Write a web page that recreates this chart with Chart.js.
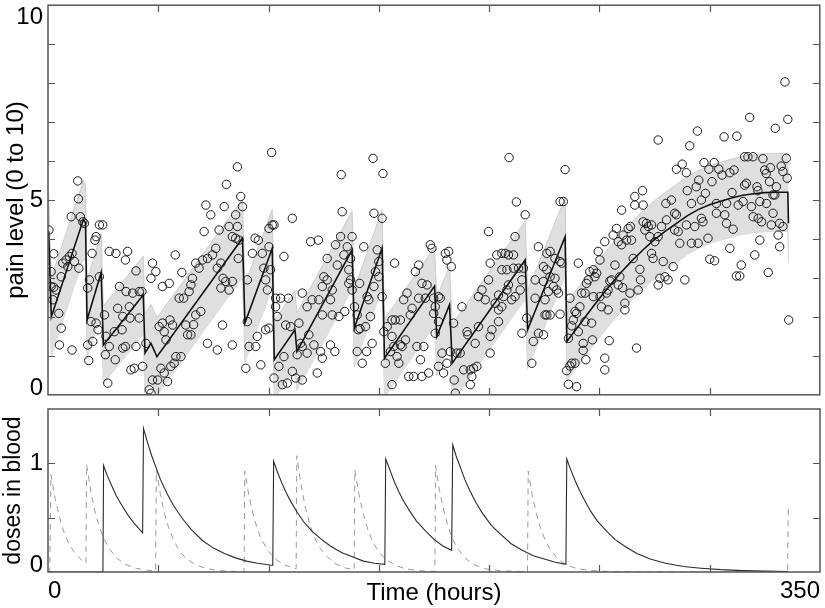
<!DOCTYPE html>
<html>
<head>
<meta charset="utf-8">
<script src="https://cdn.jsdelivr.net/npm/chart.js@4"></script>
<style>
  body { margin: 0; background: #fff; }
  #top, #bottom { position: absolute; left: 0; }
  #top { top: 0; }
  #bottom { top: 400px; }
</style>
</head>
<body>
<canvas id="top" width="825" height="400"></canvas>
<canvas id="bottom" width="825" height="208"></canvas>
<script>
// pain model: fitted mean (line) and band, hours
const painTime = [0.3, 1.5, 16.0, 17.0, 17.7, 24.1, 25.1, 43.2, 44.0, 46.7, 49.4, 88.2, 89.3, 101.7, 102.6, 112.0, 112.9, 137.9, 138.9, 151.5, 152.6, 175.3, 176.3, 182.1, 183.3, 216.4, 217.5, 234.5, 235.3, 240, 245, 250, 255, 260, 265, 270, 275, 280, 285, 290, 295, 300, 305, 310, 315, 320, 325, 330, 335.5, 335.8];
const painLevel = [4.2, 2.0, 4.49, 4.42, 1.92, 3.14, 1.28, 2.56, 1.07, 1.32, 0.98, 4.02, 1.84, 3.76, 0.90, 1.67, 1.11, 3.72, 1.71, 3.76, 0.94, 2.79, 1.50, 2.31, 0.81, 3.46, 1.67, 4.06, 1.37, 1.72, 2.1, 2.47, 2.82, 3.15, 3.45, 3.73, 3.98, 4.2, 4.4, 4.6, 4.76, 4.88, 4.97, 5.05, 5.12, 5.16, 5.19, 5.2, 5.2, 4.4];
const bandUpper = [5.2, 3.0, 5.49, 5.42, 2.92, 4.14, 2.28, 3.56, 2.07, 2.32, 1.98, 5.02, 2.84, 4.76, 1.90, 2.67, 2.11, 4.72, 2.71, 4.76, 1.94, 3.79, 2.50, 3.31, 1.81, 4.46, 2.67, 5.06, 2.37, 2.72, 3.1, 3.47, 3.82, 4.15, 4.45, 4.73, 4.98, 5.2, 5.4, 5.6, 5.76, 5.88, 5.97, 6.05, 6.12, 6.16, 6.19, 6.2, 6.2, 5.4];
const bandLower = [3.2, 1.0, 3.49, 3.42, 0.92, 2.14, 0.28, 1.56, 0.07, 0.32, -0.02, 3.02, 0.84, 2.76, -0.10, 0.67, 0.11, 2.72, 0.71, 2.76, -0.06, 1.79, 0.50, 1.31, -0.19, 2.46, 0.67, 3.06, 0.37, 0.72, 1.1, 1.47, 1.82, 2.15, 2.45, 2.73, 2.98, 3.2, 3.4, 3.6, 3.76, 3.88, 3.97, 4.05, 4.12, 4.16, 4.19, 4.2, 4.2, 3.4];

// observed pain reports [hours, level]
const observations = [
  [0.4,4.23],[13.5,5.49],[13.8,5.03],[10.5,4.57],[14.7,4.57],[15.8,4.44],[16.5,4.40],[23.3,4.36],[24.8,4.36],[21.8,4.06],
  [21.3,3.97],[2.6,3.62],[1.4,3.16],[1.4,2.78],[2.6,2.76],[3.7,2.69],[2.2,2.44],[4.9,2.09],[6.0,3.03],[6.7,3.38],
  [8.2,3.46],[9.0,3.29],[9.7,3.55],[10.9,3.63],[12.0,3.42],[14.0,3.25],[5.2,1.28],[6.0,1.71],[10.9,1.15],[18.0,2.74],
  [18.8,2.95],[20.0,3.63],[23.3,3.03],[18.0,1.28],[20.3,1.37],[18.5,0.88],[19.5,1.88],[21.8,1.84],[22.7,1.67],[25.6,2.05],
  [27.8,3.68],[30.8,3.63],[35.1,3.46],[36.1,3.68],[32.4,2.78],[35.4,2.65],[38.4,2.61],[41.4,2.65],[42.6,2.65],[31.6,2.22],
  [33.9,2.01],[36.9,2.26],[37.2,1.97],[26.3,1.50],[27.8,1.24],[26.0,1.03],[30.5,0.90],[30.1,1.62],[33.6,1.67],[33.9,1.20],
  [35.1,1.24],[39.9,3.18],[41.4,1.97],[39.9,1.24],[44.4,1.32],[27.1,0.30],[37.6,0.64],[39.1,0.68],[42.9,0.73],[46.7,2.99],
  [47.4,3.38],[48.9,3.16],[45.9,0.13],[46.7,0.04],[47.4,0.38],[49.7,0.38],[54.2,0.34],[51.9,2.78],[55.0,2.86],[50.4,1.75],
  [51.9,1.84],[55.3,1.92],[56.5,1.79],[52.7,1.62],[53.5,1.41],[51.2,0.68],[52.7,0.56],[55.7,0.73],[57.2,0.81],[58.0,0.98],
  [60.3,0.98],[57.7,3.59],[60.7,3.14],[59.5,2.48],[61.5,2.48],[64.0,2.65],[65.5,2.99],[64.8,2.82],[62.5,1.79],[63.3,1.54],
  [64.8,1.54],[67.0,2.05],[69.3,2.14],[66.0,1.80],[67.0,3.38],[68.5,3.25],[70.1,3.46],[72.3,3.50],[74.6,3.59],[76.1,3.76],
  [76.8,3.25],[78.4,3.38],[79.4,2.99],[80.6,2.91],[82.1,2.69],[83.6,2.91],[78.4,2.74],[71.6,4.87],[73.8,4.62],[79.9,4.83],
  [77.6,4.23],[82.1,4.32],[85.1,4.62],[85.9,4.32],[83.6,4.06],[85.1,4.02],[86.6,3.97],[88.2,4.83],[70.8,4.19],[72.3,1.32],
  [76.8,1.15],[79.1,1.79],[83.6,1.28],[86.3,3.50],[90.4,2.95],[92.7,3.63],[93.9,4.02],[95.4,3.97],[97.2,3.63],[97.9,3.25],
  [98.7,2.95],[99.5,2.69],[100.2,4.27],[102.5,4.36],[90.4,1.88],[89.7,0.68],[91.2,1.24],[94.2,1.24],[94.9,1.50],[96.5,0.77],
  [98.7,1.67],[103.2,2.48],[80.9,5.40],[85.9,5.85],[87.4,5.09],[101.4,6.22],
  [133.0,5.65],[147.4,6.07],[151.9,5.68],[209.1,6.09],[212.4,4.95],
  [101.7,4.36],[100.2,3.80],[100.9,3.21],[100.2,1.71],[103.2,2.26],[105.5,2.48],[109.0,2.48],[110.8,4.53],[107.0,3.55],[104.0,2.01],
  [107.8,1.79],[110.0,1.75],[113.8,1.84],[115.3,2.61],[119.8,2.44],[122.8,2.44],[119.1,3.93],[122.6,3.97],[124.4,2.05],[125.1,3.03],
  [126.6,2.95],[126.6,3.50],[128.9,2.69],[130.4,3.85],[131.2,3.33],[132.7,4.06],[133.4,4.70],[134.2,3.59],[135.7,3.80],[136.4,3.21],
  [137.2,3.50],[137.9,4.06],[137.2,2.95],[124.4,2.78],[128.9,2.05],[131.9,2.01],[128.1,2.44],[117.5,2.26],[118.3,1.54],[115.3,1.24],
  [114.5,1.32],[117.5,1.07],[120.6,1.28],[123.6,1.11],[122.1,0.56],[124.4,0.94],[128.1,1.28],[130.1,1.11],[113.0,1.03],[107.0,0.98],
  [110.8,0.60],[112.3,0.43],[115.3,0.38],[108.5,0.30],[106.3,0.26],[102.5,0.43],[104.7,0.73],[136.4,2.86],[134.6,2.14],[137.9,2.69],
  [139.0,2.26],[140.2,2.05],[140.7,1.67],[141.5,1.70],[144.0,1.75],[140.2,1.11],[142.5,0.81],[144.5,1.11],[147.0,1.32],[146.2,2.01],
  [141.3,2.86],[143.2,3.80],[144.7,2.52],[145.5,2.44],[147.8,2.78],[148.5,3.16],[150.0,3.42],[149.3,3.72],[151.5,2.52],[147.8,4.66],
  [151.5,4.53],[150.0,3.03],[152.3,1.62],[153.8,1.75],[156.0,1.92],[157.5,1.92],[159.8,1.92],[157.2,3.38],[156.0,1.50],[156.8,1.24],
  [159.8,1.28],[160.6,1.24],[162.1,1.41],[158.3,0.98],[159.1,0.81],[155.3,1.11],[153.0,0.81],[156.0,0.26],[163.6,0.47],[165.8,0.47],
  [169.6,0.47],[172.6,0.56],[168.9,0.90],[167.3,1.24],[170.4,1.24],[161.3,2.44],[162.8,2.61],[164.3,2.05],[165.1,2.22],[166.6,3.16],
  [168.1,3.33],[169.6,2.86],[171.9,2.82],[168.1,2.48],[171.1,2.48],[173.4,3.85],[174.1,3.76],[174.9,2.48],[177.1,2.52],[177.9,2.48],
  [175.6,2.26],[174.9,2.09],[177.1,1.88],[175.6,1.58],[178.7,1.07],[177.1,0.73],[179.4,0.56],[180.9,0.81],[182.4,1.11],[180.2,3.63],
  [181.7,3.68],[180.9,3.46],[182.9,3.29],[183.9,1.84],[185.4,1.07],[187.7,2.26],[184.2,0.38],[184.7,0.04],[186.9,1.07],[190.0,1.62],
  [190.4,1.54],[191.5,0.64],[193.0,0.68],[194.5,0.73],[192.2,0.47],[191.5,0.26],[188.5,0.64],[193.7,1.32],[195.2,1.75],[195.2,2.52],
  [196.8,2.69],[199.8,2.95],[198.3,2.44],[202.8,2.35],[201.3,1.67],[200.5,1.50],[200.5,1.07],[204.3,1.88],[204.3,2.18],[205.8,2.26],
  [204.3,2.56],[206.6,2.52],[208.1,2.69],[208.8,2.82],[199.8,4.19],[200.5,3.38],[203.5,3.59],[205.8,3.63],[207.3,3.63],[208.8,3.59],
  [211.1,3.59],[205.8,3.21],[208.1,3.21],[211.1,3.25],[211.8,4.06],[213.4,3.25],[215.6,3.25],[214.9,2.95],[214.1,2.69],[211.8,2.52],
  [210.3,2.44],[216.4,4.62],[217.1,1.97],[214.9,1.58],[219.4,0.81],[220.1,1.37],[222.4,1.58],[220.9,2.95],[222.4,3.80],[224.7,3.29],
  [225.4,2.05],[220.9,2.48],[226.2,3.63],
  [226.2,3.21],[224.7,2.91],[227.7,3.03],[229.9,2.99],[229.2,2.78],[230.7,2.69],[226.9,2.65],[231.5,2.61],[225.4,2.44],[227.7,3.68],
  [229.9,3.50],[232.2,3.42],[233.0,3.38],[226.2,2.05],[227.7,2.05],[232.2,2.07],[224.7,1.54],[232.2,4.96],[233.7,4.96],
  [266.1,4.87],[269.9,4.87],[260.1,4.74],[280.2,4.91],[282.7,5.0],[291.8,4.91],[296.3,5.0],[303.1,4.91],[307.7,4.91],[313.0,4.87],
  [315.2,4.96],[319.0,4.83],[322.8,4.96],[325.8,4.91],[328.8,4.66],[322.1,4.53],[319.8,4.57],[323.6,4.44],[331.8,4.40],[333.3,4.32],
  [328.0,4.36],[331.1,4.10],[331.8,3.80],[322.8,3.97],[320.5,3.59],[326.6,3.14],[309.2,3.76],[314.4,3.33],[312.2,3.05],[313.7,3.05],
  [306.9,4.62],[307.7,4.40],[310.7,4.25],[303.1,4.66],[300.1,3.48],[302.3,3.44],[299.3,4.02],[297.0,4.44],[296.3,4.53],[293.3,4.32],
  [294.8,3.89],[291.8,3.89],[289.5,4.36],[288.8,2.95],[286.5,3.89],[285.8,4.19],[284.2,4.23],[283.5,3.29],[281.2,2.95],[279.8,3.03],
  [277.5,2.99],[276.7,2.82],[279.0,3.42],[285.0,4.62],[284.2,4.66],[280.5,4.49],[278.2,4.32],[276.7,4.06],[275.2,3.93],[273.7,3.63],
  [274.4,3.50],[272.9,4.06],[272.2,4.32],[271.4,4.40],[270.7,4.23],[269.9,4.44],[273.7,4.36],[268.4,3.22],[268.7,2.95],[267.6,2.69],
  [266.9,1.20],[265.4,3.50],[264.6,3.97],[263.9,2.61],[262.4,3.97],[263.1,4.27],[264.1,4.32],[260.8,4.10],[260.1,3.85],[258.6,3.93],
  [257.8,4.27],[256.3,4.10],[257.1,3.33],[259.3,3.03],[258.6,2.82],[261.6,2.35],[261.6,2.18],[260.6,2.75],[255.6,2.95],[254.8,2.92],
  [254.0,2.69],[253.3,2.61],[252.5,3.93],[250.3,3.46],[249.5,3.68],[248.8,3.12],[247.3,3.21],[248.0,3.03],[245.7,3.16],[245.0,2.95],
  [244.2,2.86],[243.5,2.61],[242.0,2.61],[246.5,1.84],[247.3,2.52],[250.3,2.52],[251.0,2.26],[254.0,2.18],[254.5,1.39],[252.5,0.94],
  [252.5,0.64],[246.9,1.41],[243.5,1.88],[242.7,1.32],[242.7,1.14],[243.9,0.90],[241.2,2.26],[239.7,2.09],[239.0,2.14],[240.5,1.62],
  [238.2,1.92],[237.5,1.77],[236.7,2.48],[236.0,1.45],[239.0,0.81],[237.5,0.81],[236.7,0.74],[235.2,0.62],[236.0,0.27],[239.7,0.21],
  [240.5,3.38],[335.9,1.92],
  [234.5,5.78],[276.7,6.54],[291.0,6.39],[294.5,6.77],[306.6,6.62],[312.4,6.64],[318.2,7.12],[329.8,6.84],[334.2,8.03],[335.5,7.07],
  [285.0,5.79],[287.6,5.92],[289.5,5.70],[297.5,5.96],[302.1,5.96],[299.7,5.79],[304.2,5.79],[305.7,5.64],[301.1,5.47],[295.1,5.51],
  [311.1,5.77],[309.2,5.70],[315.9,6.11],[317.4,6.11],[319.7,6.11],[324.2,6.06],[325.0,5.77],[327.6,5.83],[325.7,5.68],[332.5,5.87],
  [333.3,5.73],[334.8,6.07],[335.2,5.56],[327.2,5.47],[315.9,5.38],[316.7,5.43],[321.5,5.34],[321.9,5.24],[330.3,5.34],[266.1,5.09],
  [269.6,5.24],[289.9,5.24],[294.0,5.34],[298.1,5.17],[310.2,5.19],[328.8,5.13],[329.6,5.13]
];

// doses in blood
const solidTime = [0, 24.9, 25.2, 27, 29, 31, 33, 36, 39, 42.9, 43.3, 45, 47, 49, 51, 54, 57, 61, 65, 70, 75, 80, 85, 90, 95, 101.9, 102.3, 104, 106, 108, 110, 113, 116, 120, 124, 128, 133, 138, 143, 148, 152.7, 153.1, 155, 157, 159, 161, 164, 167, 171, 175, 179, 183.0, 183.5, 185, 187, 189, 191, 194, 197, 201, 205, 210, 215, 220, 225, 230, 234.8, 235.2, 237, 239, 241, 243, 246, 249, 253, 257, 262, 267, 273, 280, 288, 296, 305, 315, 325, 335.5];
const solidDose = [0, 0, 0.98, 0.88, 0.79, 0.70, 0.63, 0.53, 0.45, 0.36, 1.32, 1.20, 1.07, 0.96, 0.85, 0.72, 0.61, 0.49, 0.39, 0.29, 0.22, 0.17, 0.13, 0.10, 0.08, 0.06, 1.02, 0.92, 0.82, 0.73, 0.65, 0.55, 0.46, 0.37, 0.30, 0.24, 0.18, 0.14, 0.10, 0.08, 0.07, 1.04, 0.94, 0.83, 0.74, 0.66, 0.56, 0.47, 0.38, 0.30, 0.24, 0.20, 1.17, 1.07, 0.96, 0.85, 0.76, 0.64, 0.54, 0.43, 0.35, 0.26, 0.20, 0.15, 0.12, 0.09, 0.07, 1.04, 0.94, 0.84, 0.75, 0.67, 0.56, 0.47, 0.38, 0.30, 0.23, 0.17, 0.12, 0.08, 0.05, 0.035, 0.022, 0.013, 0.008, 0.005];
const dashTime = [0, 0.8, 1.3, 3, 5, 7, 9, 11, 13, 15, 17.2, 17.5, 19.5, 21.5, 23.5, 25.5, 28, 31, 35, 40, 45, 48.8, 49.1, 51, 53, 55, 57, 60, 63, 67, 72, 78, 85, 88.9, 89.2, 91, 93, 95, 97, 100, 103, 107, 112.5, 112.8, 114.5, 116.5, 118.5, 120.5, 123, 126, 130, 134, 138.8, 139.1, 141, 143, 145, 147, 150, 153, 157, 162, 168, 175.4, 175.7, 177.5, 179.5, 181.5, 183.5, 186, 189, 193, 198, 205, 212, 217.4, 217.7, 219.5, 221.5, 223.5, 225.5, 228, 231, 235, 240, 247, 255, 270, 300, 335.3, 335.6];
const dashDose = [0, 0, 0.90, 0.70, 0.52, 0.38, 0.28, 0.21, 0.155, 0.115, 0.08, 0.99, 0.73, 0.54, 0.40, 0.30, 0.21, 0.13, 0.07, 0.034, 0.016, 0.009, 0.94, 0.71, 0.52, 0.39, 0.29, 0.18, 0.12, 0.065, 0.03, 0.012, 0.005, 0.003, 0.93, 0.71, 0.53, 0.39, 0.29, 0.19, 0.12, 0.065, 0.03, 1.07, 0.83, 0.61, 0.45, 0.33, 0.23, 0.15, 0.08, 0.04, 0.02, 0.94, 0.71, 0.53, 0.39, 0.29, 0.18, 0.12, 0.065, 0.03, 0.012, 0.004, 0.98, 0.75, 0.56, 0.41, 0.30, 0.21, 0.13, 0.07, 0.03, 0.012, 0.005, 0.003, 0.93, 0.71, 0.53, 0.39, 0.29, 0.20, 0.12, 0.065, 0.03, 0.012, 0.004, 0.001, 0, 0, 0.58];

// axis ticks
const hourTicks = [50, 100, 150, 200, 250, 300];
const painTicks = [1, 2, 3, 4, 5, 6, 7, 8, 9];
const painLabels = [0, 5, 10];
const doseTicks = [0.5, 1];
const doseLabels = [0, 1];
const hourLabels = [0, 350];

const FONT = '"Liberation Sans", Arial, Helvetica, sans-serif';
Chart.defaults.font.family = FONT;
Chart.defaults.color = '#000';

function pts(xs, ys) {
  return xs.map((x, i) => ({ x: x, y: ys[i] }));
}

// box frame with inward ticks + y labels (0 at the bottom edge, max at the top edge)
const frameTicks = {
  id: 'frameTicks',
  afterDraw(chart, args, opts) {
    const { ctx, chartArea: a, scales } = chart;
    const xs = scales.x, ys = scales.y;
    const len = 7;
    ctx.save();
    ctx.strokeStyle = '#555';
    ctx.lineWidth = 1.2;
    ctx.beginPath();
    opts.xTicks.forEach((v) => {
      const px = Math.round(xs.getPixelForValue(v)) + 0.5;
      ctx.moveTo(px, a.top); ctx.lineTo(px, a.top + len);
      ctx.moveTo(px, a.bottom); ctx.lineTo(px, a.bottom - len);
    });
    opts.yTicks.forEach((v) => {
      const py = Math.round(ys.getPixelForValue(v)) + 0.5;
      ctx.moveTo(a.left, py); ctx.lineTo(a.left + len, py);
      ctx.moveTo(a.right, py); ctx.lineTo(a.right - len, py);
    });
    ctx.stroke();
    ctx.lineWidth = 1.5;
    ctx.strokeRect(a.left, a.top, a.right - a.left, a.bottom - a.top);

    ctx.fillStyle = '#000';
    ctx.font = '24px ' + FONT;
    ctx.textAlign = 'right';
    opts.yLabels.forEach((v) => {
      const py = ys.getPixelForValue(v);
      if (v === ys.max) { ctx.textBaseline = 'top'; }
      else if (v === ys.min) { ctx.textBaseline = 'alphabetic'; }
      else { ctx.textBaseline = 'middle'; }
      ctx.fillText(String(v), a.left - 5, py);
    });
    ctx.restore();
  }
};

function yAxis(min, max, title, size, pad) {
  return {
    type: 'linear',
    min: min,
    max: max,
    ticks: { display: false },
    grid: { display: false, drawTicks: false },
    border: { display: false },
    title: { display: true, text: title, font: { size: size }, padding: { top: pad, bottom: 0 } },
    afterFit: (s) => { s.width = 48; }
  };
}

new Chart(document.getElementById('top'), {
  type: 'line',
  data: {
    datasets: [
      {
        label: 'reports',
        data: observations.map((p) => ({ x: p[0], y: p[1] })),
        showLine: false,
        pointStyle: 'circle',
        pointRadius: 4.2,
        pointBorderWidth: 1,
        pointBorderColor: '#1a1a1a',
        pointBackgroundColor: 'rgba(0,0,0,0)'
      },
      {
        label: 'mean',
        data: pts(painTime, painLevel),
        borderColor: '#111',
        borderWidth: 1.6,
        pointRadius: 0,
        tension: 0,
        fill: false
      },
      {
        label: 'upper',
        data: pts(painTime, bandUpper),
        borderColor: '#c4c4c4',
        borderWidth: 0.8,
        pointRadius: 0,
        backgroundColor: '#dfdfdf',
        fill: '+1'
      },
      {
        label: 'lower',
        data: pts(painTime, bandLower),
        borderColor: '#c4c4c4',
        borderWidth: 0.8,
        pointRadius: 0,
        fill: false
      }
    ]
  },
  options: {
    responsive: false,
    animation: false,
    layout: { padding: { top: 5, right: 3, bottom: 5, left: 0 } },
    plugins: {
      legend: { display: false },
      tooltip: { enabled: false },
      frameTicks: { xTicks: hourTicks, yTicks: painTicks, yLabels: painLabels }
    },
    scales: {
      x: { type: 'linear', min: 0, max: 350, display: false },
      y: yAxis(0, 10, 'pain level (0 to 10)', 24, 2)
    }
  },
  plugins: [frameTicks]
});

new Chart(document.getElementById('bottom'), {
  type: 'line',
  data: {
    datasets: [
      {
        label: 'drug A',
        data: pts(solidTime, solidDose),
        borderColor: '#2a2a2a',
        borderWidth: 1.1,
        pointRadius: 0,
        tension: 0
      },
      {
        label: 'drug B',
        data: pts(dashTime, dashDose),
        borderColor: '#9a9a9a',
        borderWidth: 1,
        borderDash: [6, 5],
        pointRadius: 0,
        tension: 0
      }
    ]
  },
  options: {
    responsive: false,
    animation: false,
    layout: { padding: { top: 9, right: 3, bottom: 0, left: 0 } },
    plugins: {
      legend: { display: false },
      tooltip: { enabled: false },
      frameTicks: { xTicks: hourTicks, yTicks: doseTicks, yLabels: doseLabels }
    },
    scales: {
      x: {
        type: 'linear',
        min: 0,
        max: 350,
        ticks: {
          stepSize: 50,
          autoSkip: false,
          maxRotation: 0,
          align: 'inner',
          padding: 5,
          font: { size: 24 },
          callback: (v) => (hourLabels.includes(v) ? String(v) : '')
        },
        grid: { display: false, drawTicks: false },
        border: { display: false },
        title: { display: true, text: 'Time (hours)', font: { size: 24 }, padding: { top: 0, bottom: 0 } },
        afterFit: (s) => { s.height = 36; }
      },
      y: yAxis(0, 1.5, 'doses in blood', 23, 0)
    }
  },
  plugins: [frameTicks]
});
</script>
</body>
</html>
